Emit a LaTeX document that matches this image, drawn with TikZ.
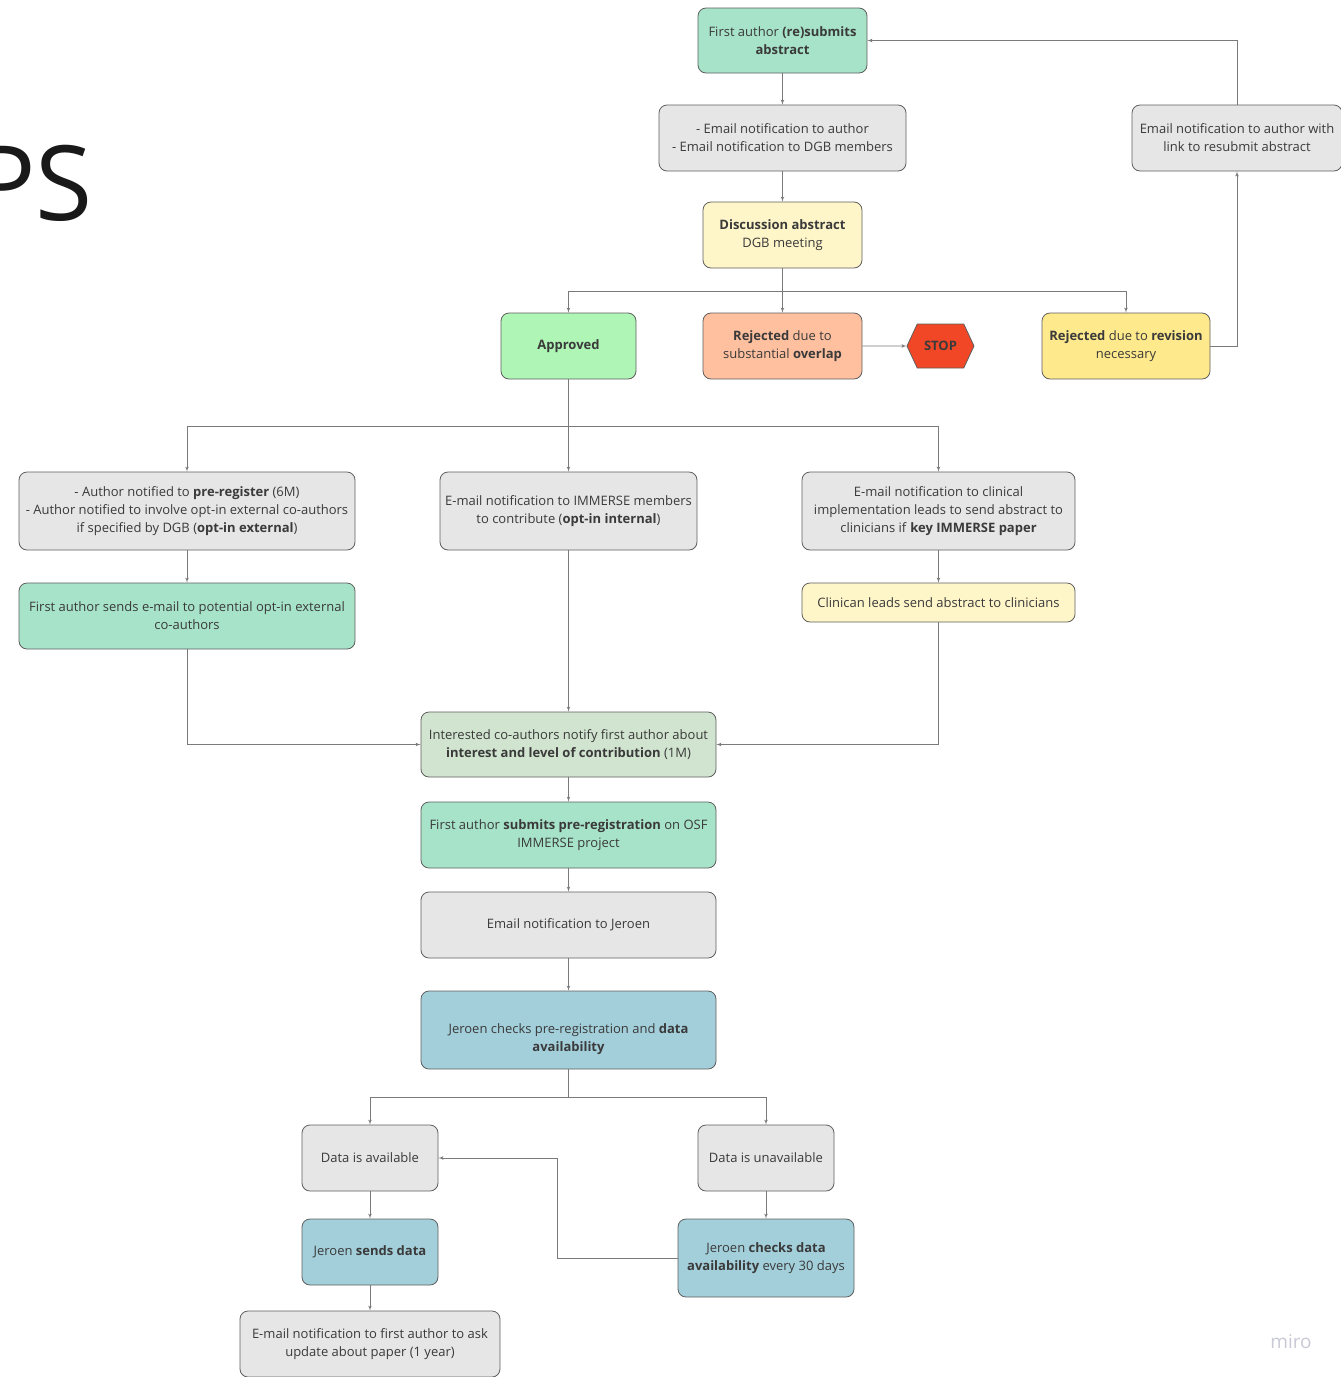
\documentclass[tikz,border=0pt]{standalone}
\usepackage{fontspec}
\setmainfont{Open Sans}
\usepackage{tikz}
\usetikzlibrary{shapes,arrows,positioning,calc}

\definecolor{boxline}{HTML}{5E5E5E}
\definecolor{arrowline}{HTML}{7A7A7A}
\definecolor{txt}{HTML}{3A3A3A}
\definecolor{greyfill}{HTML}{E6E6E6}
\definecolor{mintfill}{HTML}{A7E3C9}
\definecolor{paleyfill}{HTML}{FEF5C9}
\definecolor{greenfill}{HTML}{AEF5B6}
\definecolor{peachfill}{HTML}{FFC09F}
\definecolor{yellowfill}{HTML}{FEE98D}
\definecolor{stopfill}{HTML}{F24726}
\definecolor{sagefill}{HTML}{D0E4CF}
\definecolor{bluefill}{HTML}{A3CFDB}
\definecolor{mirogrey}{HTML}{C9C9D6}

\begin{document}
\begin{tikzpicture}[x=1pt, y=1pt, node distance=100pt, auto,
        font=\fontsize{13}{18}\selectfont,
        base/.style={rectangle, draw=boxline, line width=0.8pt, rounded corners=8pt, align=center, text=txt, inner sep=2pt, minimum height=66pt},
        greybox/.style={base, fill=greyfill},
        mintbox/.style={base, fill=mintfill},
        paleybox/.style={base, fill=paleyfill},
        greenbox/.style={base, fill=greenfill},
        peachbox/.style={base, fill=peachfill},
        yellowbox/.style={base, fill=yellowfill},
        sagebox/.style={base, fill=sagefill},
        bluebox/.style={base, fill=bluefill},
        stopsign/.style={signal, signal to=west and east, signal pointer angle=130, draw=boxline, line width=0.8pt, fill=stopfill, text=txt, minimum width=67pt, minimum height=44pt, inner sep=0pt},
        link/.style={draw=arrowline, line width=0.7pt},
        line/.style={link, -latex'}]
        \useasboundingbox (0,0) rectangle (1341,-1377);
        \node [anchor=base east, inner sep=0pt, font=\fontsize{104}{110}\selectfont, text=black!90] (title) at (93,-220) {PS};
        \node [mintbox, minimum width=169pt, minimum height=65pt] (submit) at (782.5,-40.5) {First author \textbf{(re)submits}\\\textbf{abstract}};
        \node [greybox, below of=submit, node distance=97.5pt, minimum width=247pt] (notifyall) {- Email notification to author\\- Email notification to DGB members};
        \node [paleybox, below of=notifyall, node distance=97pt, minimum width=159pt] (discuss) {\textbf{Discussion abstract}\\DGB meeting};
        \node [peachbox, below of=discuss, node distance=111pt, minimum width=159pt] (overlap) {\textbf{Rejected} due to\\substantial \textbf{overlap}};
        \node [greenbox, left of=overlap, node distance=214pt, minimum width=135pt] (approved) {\textbf{Approved}};
        \node [stopsign, right of=overlap, node distance=158pt] (stop) {\textbf{STOP}};
        \node [yellowbox, right of=overlap, node distance=343.5pt, minimum width=168pt] (revision) {\textbf{Rejected} due to \textbf{revision}\\necessary};
        \node [greybox, right of=notifyall, node distance=454.5pt, minimum width=210pt] (resubmit) {Email notification to author with\\link to resubmit abstract};

        \node [greybox, below of=approved, node distance=165pt, minimum width=257pt, minimum height=78pt] (internal) {E-mail notification to IMMERSE members\\to contribute (\textbf{opt-in internal})};
        \node [greybox, left of=internal, node distance=381.5pt, minimum width=336pt, minimum height=78pt] (prereg) {- Author notified to \textbf{pre-register} (6M)\\- Author notified to involve opt-in external co-authors\\if specified by DGB (\textbf{opt-in external})};
        \node [greybox, right of=internal, node distance=370pt, minimum width=273pt, minimum height=78pt] (clinical) {E-mail notification to clinical\\implementation leads to send abstract to\\clinicians if \textbf{key IMMERSE paper}};
        \node [mintbox, below of=prereg, node distance=105pt, minimum width=336pt] (external) {First author sends e-mail to potential opt-in external\\co-authors};
        \node [paleybox, below of=clinical, node distance=91.5pt, minimum width=273pt, minimum height=39pt] (leads) {Clinican leads send abstract to clinicians};
        \node [sagebox, below of=internal, node distance=233.5pt, minimum width=295pt, minimum height=65pt] (interest) {Interested co-authors notify first author about\\\textbf{interest and level of contribution} (1M)};
        \node [mintbox, below of=interest, node distance=90.5pt, minimum width=295pt] (osf) {First author \textbf{submits pre-registration} on OSF\\IMMERSE project};
        \node [greybox, below of=osf, node distance=90pt, minimum width=295pt] (jmail) {Email notification to Jeroen};
        \node [bluebox, below of=jmail, node distance=105pt, minimum width=295pt, minimum height=78pt] (jcheck) {\raisebox{-9pt}[\height][\depth]{\begin{tabular}{@{}c@{}}Jeroen checks pre-registration and \textbf{data}\\\textbf{availability}\end{tabular}}};
        \node [greybox, below of=jcheck, node distance=128pt, xshift=-198.5pt, minimum width=136pt] (avail) {Data is available};
        \node [greybox, right of=avail, node distance=396pt, minimum width=136pt] (unavail) {Data is unavailable};
        \node [bluebox, below of=avail, node distance=94pt, minimum width=136pt] (sends) {Jeroen \textbf{sends data}};
        \node [greybox, below of=sends, node distance=92pt, minimum width=260pt] (update) {E-mail notification to first author to ask\\update about paper (1 year)};
        \node [bluebox, below of=unavail, node distance=100pt, minimum width=176pt, minimum height=78pt] (monthly) {Jeroen \textbf{checks data}\\\textbf{availability} every 30 days};
        \node [text=mirogrey, font=\fontsize{19}{20}\selectfont] (miro) at (1291,-1342) {miro};

        \coordinate (fork1) at ($(discuss)+(0,-56)$);
        \coordinate (fork2) at ($(approved)+(0,-80)$);
        \coordinate (fork3) at ($(jcheck)+(0,-67)$);

        \path [line] (submit) -- (notifyall);
        \path [line] (notifyall) -- (discuss);
        \path [link] (discuss) -- (fork1);
        \path [line] (fork1) -| (approved);
        \path [line] (fork1) -- (overlap);
        \path [line] (fork1) -| (revision);
        \path [line] (overlap) -- (stop);
        \path [line] (revision) -| (resubmit);
        \path [line] (resubmit) |- (submit);

        \path [link] (approved) -- (fork2);
        \path [line] (fork2) -| (prereg);
        \path [line] (fork2) -- (internal);
        \path [line] (fork2) -| (clinical);
        \path [line] (prereg) -- (external);
        \path [line] (internal) -- (interest);
        \path [line] (clinical) -- (leads);
        \path [line] (external) |- (interest);
        \path [line] (leads) |- (interest);
        \path [line] (interest) -- (osf);
        \path [line] (osf) -- (jmail);
        \path [line] (jmail) -- (jcheck);
        \path [link] (jcheck) -- (fork3);
        \path [line] (fork3) -| (avail);
        \path [line] (fork3) -| (unavail);
        \path [line] (avail) -- (sends);
        \path [line] (sends) -- (update);
        \path [line] (unavail) -- (monthly);
        \path [line] (monthly.west) -- ++(-120pt,0) |- (avail);
    \end{tikzpicture}
\end{document}
